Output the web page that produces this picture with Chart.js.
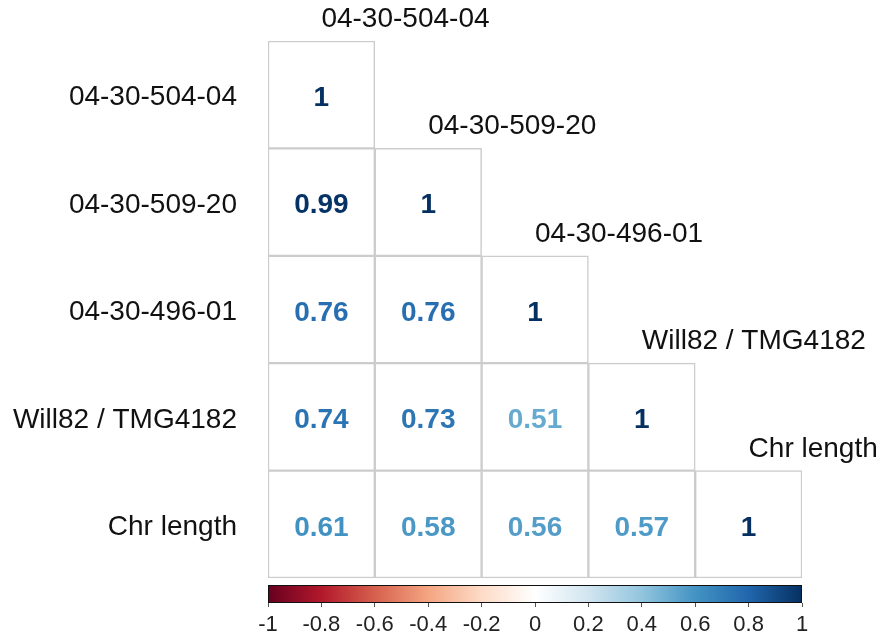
<!DOCTYPE html>
<html>
<head>
<meta charset="utf-8">
<script src="https://cdn.jsdelivr.net/npm/chart.js@4/dist/chart.umd.min.js"></script>
<style>
  body { margin: 0; background: #fff; }
  #wrap { width: 879px; height: 638px; }
</style>
</head>
<body>
<div id="wrap"><canvas id="corr" width="879" height="638"></canvas></div>
<script>
// variable names (rows and columns)
const varNames = ['04-30-504-04', '04-30-509-20', '04-30-496-01', 'Will82 / TMG4182', 'Chr length'];

// lower triangle of the correlation matrix, one array per row
const row504 = [1];
const row509 = [0.99, 1];
const row496 = [0.76, 0.76, 1];
const rowWill = [0.74, 0.73, 0.51, 1];
const rowChr = [0.61, 0.58, 0.56, 0.57, 1];
const corrRows = [row504, row509, row496, rowWill, rowChr];

// colour bar ticks
const barTicks = [-1, -0.8, -0.6, -0.4, -0.2, 0, 0.2, 0.4, 0.6, 0.8, 1];

// corrplot RdBu ramp, -1 .. 1
const rampColors = ['#67001F', '#B2182B', '#D6604D', '#F4A582', '#FDDBC7', '#FFFFFF',
                    '#D1E5F0', '#92C5DE', '#4393C3', '#2166AC', '#053061'];

function hexToRgb(h) {
  return [parseInt(h.slice(1, 3), 16), parseInt(h.slice(3, 5), 16), parseInt(h.slice(5, 7), 16)];
}
function corrColor(v) {
  let p = (v + 1) / 2 * (rampColors.length - 1);
  let i = Math.min(Math.floor(p), rampColors.length - 2);
  let t = p - i;
  let a = hexToRgb(rampColors[i]), b = hexToRgb(rampColors[i + 1]);
  let c = a.map((x, k) => Math.round(x + (b[k] - x) * t));
  return 'rgb(' + c.join(',') + ')';
}

const FONT = '"Liberation Sans", Arial, sans-serif';

// one floating-bar dataset per row: each cell spans [row, row+1] on the y scale
const datasets = corrRows.map((vals, r) => ({
  label: varNames[r],
  data: varNames.map((n, c) => c < vals.length ? [r, r + 1] : null),
  corr: vals,
  backgroundColor: '#ffffff',
  borderColor: '#cccccc',
  borderWidth: 1.5,
  borderSkipped: false,
  grouped: false,
  barPercentage: 1,
  categoryPercentage: 1,
  xAxisID: 'x',
  yAxisID: 'y'
}));

const corrText = {
  id: 'corrText',
  afterDraw(chart) {
    const ctx = chart.ctx;
    ctx.save();
    // numbers in cells
    chart.data.datasets.forEach((ds, r) => {
      const meta = chart.getDatasetMeta(r);
      meta.data.forEach((el, c) => {
        if (c >= ds.corr.length) return;
        const v = ds.corr[c];
        ctx.font = 'bold 28px ' + FONT;
        ctx.fillStyle = corrColor(v);
        ctx.textAlign = 'center';
        ctx.textBaseline = 'middle';
        ctx.fillText(String(v), el.x, (el.y + el.base) / 2 + 3.5);
        // column label above the diagonal cell
        if (c === r) {
          const top = Math.min(el.y, el.base);
          ctx.font = '28px ' + FONT;
          ctx.fillStyle = '#111';
          ctx.textAlign = 'left';
          ctx.textBaseline = 'alphabetic';
          ctx.fillText(varNames[c], el.x, top - 14);
        }
      });
    });
    // colour bar
    const cb = chart.scales.cb;
    const y0 = cb.top - 18, y1 = cb.top;
    const g = ctx.createLinearGradient(cb.left, 0, cb.right, 0);
    rampColors.forEach((col, i) => g.addColorStop(i / (rampColors.length - 1), col));
    ctx.fillStyle = g;
    ctx.fillRect(cb.left, y0, cb.right - cb.left, y1 - y0);
    ctx.strokeStyle = '#111';
    ctx.lineWidth = 1;
    ctx.strokeRect(cb.left + 0.5, y0 + 0.5, cb.right - cb.left - 1, y1 - y0 - 1);
    ctx.restore();
  }
};

new Chart(document.getElementById('corr').getContext('2d'), {
  type: 'bar',
  data: { labels: varNames, datasets: datasets },
  options: {
    responsive: false,
    animation: false,
    events: [],
    layout: { padding: { top: 41, right: 77, left: 0, bottom: 0 } },
    plugins: { legend: { display: false }, tooltip: { enabled: false } },
    scales: {
      x: {
        type: 'category',
        position: 'bottom',
        weight: 0,
        grid: { display: false },
        border: { display: false },
        ticks: { display: false },
        afterFit(scale) { scale.height = 25; }
      },
      cb: {
        type: 'linear',
        position: 'bottom',
        weight: 1,
        min: -1,
        max: 1,
        offset: false,
        afterBuildTicks(scale) { scale.ticks = barTicks.map(v => ({ value: v })); },
        grid: { offset: false, drawOnChartArea: false, drawTicks: true, tickLength: 4, color: '#555' },
        border: { display: false },
        ticks: {
          padding: 5,
          maxRotation: 0,
          autoSkip: false,
          color: '#222',
          font: { family: FONT, size: 22 },
          callback: v => String(+v.toFixed(1))
        },
        afterFit(scale) { scale.height = 35; }
      },
      y: {
        type: 'linear',
        reverse: true,
        min: 0,
        max: 5,
        afterBuildTicks(scale) { scale.ticks = varNames.map((n, i) => ({ value: i + 0.5 })); },
        grid: { display: false, drawTicks: false },
        border: { display: false },
        ticks: {
          padding: 31,
          labelOffset: 3,
          color: '#111',
          font: { family: FONT, size: 28 },
          callback: v => varNames[Math.floor(v)]
        },
        afterFit(scale) {
          scale.width = 268;
          scale.paddingTop = 0;
          scale.paddingBottom = 0;
        }
      }
    }
  },
  plugins: [corrText]
});
</script>
</body>
</html>
